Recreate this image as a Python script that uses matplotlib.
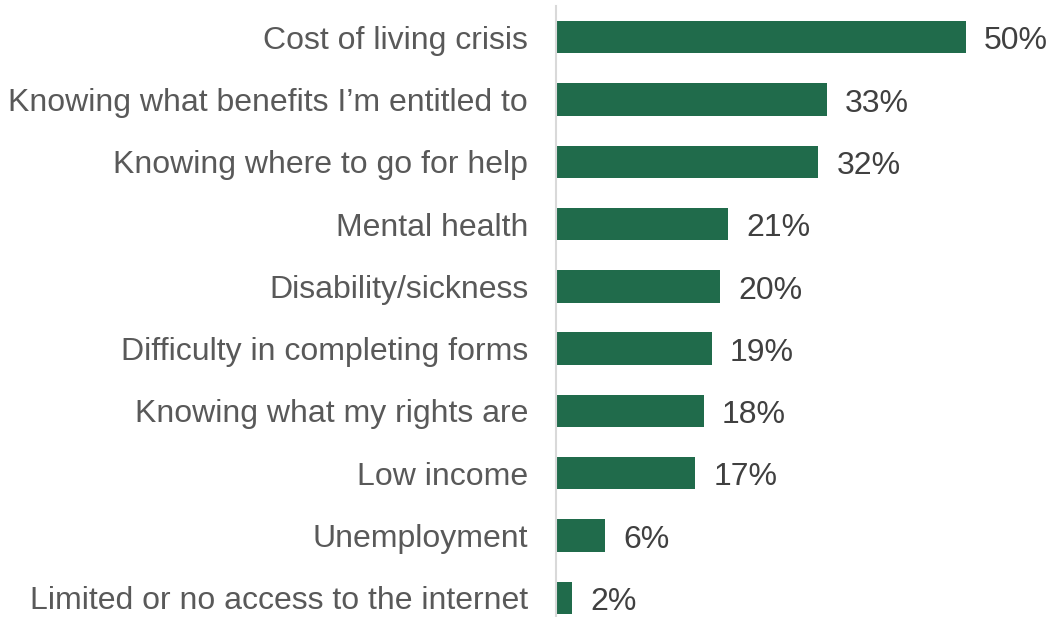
import matplotlib.pyplot as plt

plt.rcParams['font.family'] = ['Liberation Sans', 'DejaVu Sans']

labels = ["Cost of living crisis", "Knowing what benefits I\u2019m entitled to",
          "Knowing where to go for help", "Mental health", "Disability/sickness",
          "Difficulty in completing forms", "Knowing what my rights are",
          "Low income", "Unemployment", "Limited or no access to the internet"]
values = [50, 33, 32, 21, 20, 19, 18, 17, 6, 2]

fig = plt.figure(figsize=(10.57, 6.17), dpi=100)
ax = fig.add_axes([556 / 1057, -12 / 617, 501 / 1057, 623 / 617])

pos = list(range(len(labels)))
ax.barh(pos, values, height=0.52, color='#206B4B')
for p, v in zip(pos, values):
    ax.annotate(f"{v}%", (v, p), xytext=(13, -3), textcoords='offset points',
                va='center', ha='left', fontsize=23, color='#404040')

ax.set_xlim(0, 501 / 8.2)
ax.set_ylim(len(labels) - 0.5, -0.5)
ax.set_yticks(pos)
ax.set_yticklabels(labels, fontsize=23, color='#595959')
ax.tick_params(axis='y', length=0, pad=20)
ax.set_xticks([])
for s in ['top', 'right', 'bottom']:
    ax.spines[s].set_visible(False)
ax.spines['left'].set_color('#D9D9D9')
ax.spines['left'].set_linewidth(1.5)

fig.savefig('out.png', dpi=100)
